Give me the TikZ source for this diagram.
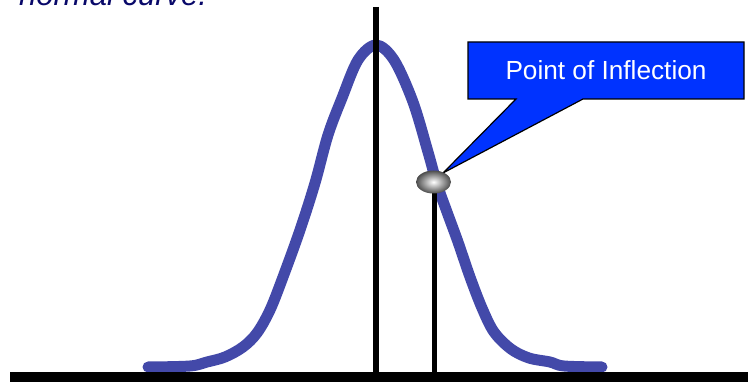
\documentclass[tikz,border=0pt]{standalone}
\usepackage{fontspec}
\setmainfont{Liberation Sans}
\definecolor{curveblue}{RGB}{67,73,169}
\definecolor{calloutblue}{RGB}{0,51,255}
\definecolor{navytext}{RGB}{8,8,105}
\tikzset{
  curveline/.style={draw=curveblue, line width=11pt, line cap=round, line join=round},
  axisline/.style={fill=black},
  calloutshape/.style={fill=calloutblue, draw=black, line width=1.2pt, line join=miter},
  ballshade/.style={inner color=white, outer color=black!70, shading=radial},
}
\begin{document}
\begin{tikzpicture}[x=1pt,y=-1pt]
\useasboundingbox (0,0) rectangle (748,382);
% title fragment
\node[anchor=base west, inner sep=0pt, text=navytext, font=\fontsize{31}{31}\selectfont\itshape] (title) at (19,5.5) {normal curve.};
% curve
\draw[curveline] plot[smooth, tension=0.55] coordinates {
 (148,367) (190,366) (207,362) (225,357) (243,347) (257,333) (270,310) (283,277)
 (300,230) (315,183) (328,135) (342,98) (358,60) (376,45) (394,60) (413,102)
 (428,152) (437,184) (447,212) (458,242) (470,277) (482,308) (494,332) (511,349)
 (529,358) (550,362) (564,366) (602,367)};
% axes
\fill[axisline] (10,372) rectangle (748,382);
\coordinate (meantop) at (376,7);
\coordinate (meanbot) at (376,372);
\draw[line width=6pt] (meantop) -- (meanbot);
% ball
\coordinate (ball) at (433.5,182);
\coordinate (ballbot) at (434.5,192);
\coordinate (sigbot) at (434.5,372);
\draw[line width=5pt] (ballbot) -- (sigbot);
% callout
\coordinate (tip) at (443,173);
\path[calloutshape] (468,42) -- (744,42) -- (744,99) -- (583,99) -- (tip) -- (516,99) -- (468,99) -- cycle;
\node[text=white, font=\fontsize{26.2}{26.2}\selectfont, inner sep=0pt] (label) at (606,70) {Point of Inflection};
\shade[ballshade] (ball) ellipse [x radius=17.5, y radius=11.5];
\end{tikzpicture}
\end{document}
